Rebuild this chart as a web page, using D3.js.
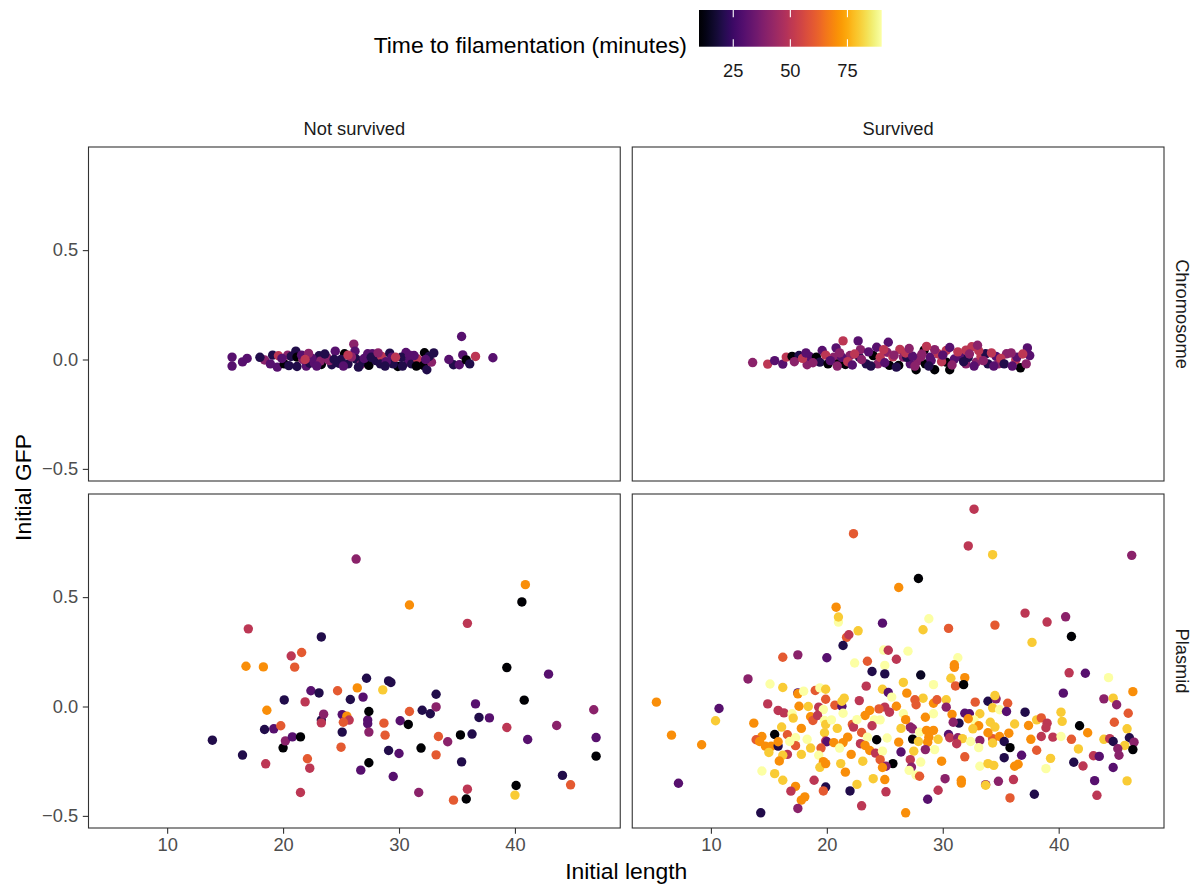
<!DOCTYPE html>
<html>
<head>
<meta charset="utf-8">
<script src="https://cdn.jsdelivr.net/npm/d3@7"></script>
<style>
  body { margin: 0; background: #ffffff; }
  text { font-family: "Liberation Sans", Arial, Helvetica, sans-serif; }
</style>
</head>
<body>
<svg id="chart" width="1193" height="884"></svg>
<script>
// Facet levels and axis ticks
const survivalLevels = ["Not survived", "Survived"];
const constructLevels = ["Chromosome", "Plasmid"];
const xTicks = [10, 20, 30, 40];
const yTicks = [-0.5, 0, 0.5];
const timeTicks = [25, 50, 75];
const timeLimits = [10, 90];

// Each point: [initial length, initial GFP, time to filamentation (min)]
const chromosomeNotSurvived = [
  [15.6, 0.011, 30], [15.6, -0.030, 30], [16.5, -0.011, 30], [18.4, -0.002, 40],
  [19.1, 0.020, 20], [19.6, 0.017, 50], [19.5, -0.035, 30], [20.1, -0.020, 10],
  [20.4, 0.020, 40], [20.7, 0.014, 20], [21.1, 0.038, 20], [21.2, 0.011, 10],
  [21.2, -0.032, 20], [22.0, -0.030, 30], [22.3, -0.017, 20], [22.7, -0.017, 30],
  [23.1, 0.017, 20], [23.3, -0.023, 10], [23.2, -0.008, 40], [23.8, 0.008, 40],
  [24.2, -0.024, 20], [24.5, 0.038, 30], [24.8, -0.017, 20], [25.3, 0.026, 10],
  [25.6, -0.020, 20], [26.1, 0.070, 40], [26.2, 0.038, 30], [26.3, 0.002, 20],
  [26.7, -0.024, 40], [26.9, -0.012, 20], [27.3, 0.026, 30], [27.4, -0.027, 10],
  [27.7, 0.026, 30], [28.0, -0.005, 20], [28.5, 0.014, 50], [28.4, -0.020, 20],
  [29.2, 0.029, 20], [29.4, 0.011, 30], [29.9, -0.032, 10], [29.5, -0.020, 20],
  [30.6, 0.032, 30], [30.8, -0.012, 30], [31.1, -0.020, 20], [31.6, 0.002, 50],
  [32.2, 0.031, 10], [32.1, -0.027, 10], [32.4, -0.047, 20], [32.8, -0.012, 40],
  [32.6, 0.014, 20], [34.7, -0.024, 20], [35.2, -0.024, 30], [35.4, 0.105, 30],
  [35.5, 0.021, 30], [35.8, -0.002, 10], [36.6, 0.014, 50], [38.1, 0.008, 30],
  [22.5, 0.005, 30], [24.0, -0.005, 40], [25.0, 0.000, 20], [27.0, 0.005, 30],
  [28.9, -0.010, 30], [30.2, 0.010, 20], [31.3, 0.018, 30], [21.7, 0.000, 40],
  [16.9, 0.005, 30], [18.0, 0.010, 20], [18.9, -0.020, 30], [19.9, 0.005, 30],
  [20.5, -0.028, 20], [21.6, 0.020, 30], [22.2, 0.028, 40], [22.9, -0.030, 30],
  [23.6, 0.025, 20], [24.4, 0.000, 20], [25.2, -0.030, 30], [25.9, 0.012, 40],
  [26.5, -0.035, 20], [27.6, 0.010, 20], [28.2, 0.030, 40], [28.8, -0.030, 20],
  [29.7, 0.010, 50], [30.3, -0.030, 20], [30.9, 0.020, 30], [31.5, -0.030, 10],
  [32.3, 0.000, 30], [33.0, 0.030, 20], [34.3, 0.000, 30], [36.1, -0.020, 20],
  [21.9, 0.000, 50], [25.6, 0.020, 50]
];

const chromosomeSurvived = [
  [13.6, -0.014, 40], [14.9, -0.021, 50], [15.5, -0.005, 30], [16.2, -0.021, 30],
  [16.5, 0.011, 50], [17.0, 0.014, 10], [17.6, 0.018, 20], [18.3, -0.024, 40],
  [18.5, 0.014, 30], [19.1, 0.011, 10], [19.6, 0.041, 30], [19.4, -0.012, 20],
  [20.1, -0.020, 10], [20.8, 0.053, 30], [20.6, 0.011, 40], [21.4, 0.085, 50],
  [21.0, -0.020, 10], [21.6, -0.023, 10], [22.0, 0.018, 40], [22.7, 0.085, 30],
  [22.8, 0.011, 20], [23.4, -0.020, 20], [24.0, 0.018, 10], [24.3, 0.056, 30],
  [24.4, -0.020, 40], [25.2, 0.033, 40], [25.3, 0.079, 30], [25.4, -0.027, 10],
  [26.2, -0.027, 10], [26.3, 0.046, 50], [26.6, 0.011, 40], [27.2, -0.020, 30],
  [27.7, -0.047, 10], [27.9, -0.005, 40], [28.4, 0.043, 10], [28.5, -0.020, 10],
  [29.3, -0.047, 10], [28.9, 0.011, 30], [29.6, 0.026, 50], [30.3, 0.041, 50],
  [30.3, -0.012, 10], [30.6, -0.047, 10], [31.0, 0.002, 30], [31.5, 0.014, 30],
  [32.0, 0.043, 50], [32.5, 0.058, 50], [32.0, -0.020, 40], [32.9, -0.012, 40],
  [33.3, 0.014, 50], [33.7, 0.026, 20], [33.9, -0.020, 20], [34.6, 0.014, 30],
  [34.8, -0.020, 40], [35.5, 0.026, 40], [36.3, -0.002, 50], [36.4, 0.011, 30],
  [36.7, -0.038, 10], [37.3, 0.053, 30], [37.5, 0.018, 30], [37.2, -0.020, 40],
  [22.9, 0.045, 40], [26.9, 0.010, 20], [29.0, -0.005, 30], [32.2, 0.010, 20],
  [21.3, 0.010, 30], [25.7, 0.012, 50], [28.1, 0.012, 40],
  [17.2, -0.010, 40], [17.9, 0.005, 50], [18.8, -0.015, 40], [19.9, 0.020, 50],
  [20.3, -0.005, 30], [21.1, 0.030, 40], [21.8, -0.010, 50], [22.4, 0.025, 50],
  [23.0, 0.000, 40], [23.6, 0.035, 30], [23.8, -0.030, 20], [24.6, 0.010, 50],
  [25.0, -0.015, 30], [25.8, 0.020, 40], [26.0, -0.035, 20], [26.8, 0.030, 50],
  [27.4, 0.015, 30], [27.6, -0.030, 40], [28.2, 0.025, 40], [28.8, -0.030, 20],
  [29.3, 0.045, 40], [29.9, -0.010, 50], [30.0, 0.020, 30], [30.8, -0.025, 40],
  [31.3, 0.035, 50], [31.8, -0.010, 20], [32.3, 0.025, 40], [32.7, -0.030, 30],
  [33.1, 0.040, 50], [33.5, -0.005, 40], [34.2, 0.030, 50], [34.4, -0.030, 30],
  [35.0, 0.005, 50], [35.3, -0.020, 20], [35.9, 0.030, 40], [36.0, -0.030, 30],
  [36.9, 0.025, 50], [18.2, 0.030, 30], [20.9, -0.030, 40], [22.2, -0.025, 30],
  [24.9, 0.045, 50], [27.1, 0.050, 40], [30.6, 0.055, 30], [33.0, 0.065, 40],
  [28.6, 0.060, 50]
];

const plasmidNotSurvived = [
  [13.9, -0.154, 20], [16.5, -0.222, 20], [16.8, 0.184, 70], [17.0, 0.355, 50],
  [18.3, 0.181, 70], [18.4, -0.105, 20], [18.6, -0.017, 70], [18.5, -0.262, 50],
  [19.2, -0.102, 30], [19.8, -0.088, 60], [20.0, -0.189, 10], [20.1, 0.030, 20],
  [20.2, -0.157, 40], [20.7, 0.231, 50], [20.8, -0.139, 30], [21.0, 0.180, 60],
  [21.5, -0.139, 10], [21.5, -0.393, 50], [21.6, 0.247, 60], [21.9, 0.021, 50],
  [22.1, -0.239, 60], [22.3, -0.282, 50], [22.4, 0.072, 30], [23.1, 0.062, 20],
  [23.3, -0.062, 20], [23.3, -0.075, 50], [23.3, 0.318, 20], [23.5, -0.035, 40],
  [24.7, 0.072, 60], [25.0, -0.186, 60], [25.1, -0.037, 30], [25.1, -0.117, 20],
  [25.5, -0.044, 70], [25.7, -0.062, 50], [25.2, -0.072, 60], [25.8, 0.032, 20],
  [26.3, 0.674, 40], [26.4, 0.085, 70], [26.7, -0.291, 30], [26.9, 0.043, 30],
  [27.2, 0.129, 20], [27.3, -0.062, 30], [27.3, -0.079, 30], [27.4, -0.023, 10],
  [27.4, -0.117, 40], [27.4, -0.257, 10], [28.6, 0.076, 80], [28.7, -0.076, 60],
  [28.8, -0.131, 60], [29.1, 0.117, 20], [29.3, 0.110, 20], [29.1, -0.201, 20],
  [29.5, -0.320, 30], [30.0, -0.215, 30], [30.1, -0.065, 30], [30.8, -0.082, 10],
  [30.9, 0.464, 70], [30.9, -0.023, 60], [31.7, -0.393, 40], [31.9, -0.190, 10],
  [32.0, -0.017, 20], [32.7, -0.033, 20], [33.2, -0.002, 40], [33.2, 0.056, 20],
  [33.2, -0.221, 60], [33.4, -0.137, 60], [34.2, -0.161, 40], [34.7, -0.428, 60],
  [35.3, -0.130, 10], [35.4, -0.253, 20], [35.8, -0.423, 10], [35.9, 0.380, 50],
  [35.9, -0.378, 50], [36.3, -0.126, 20], [36.6, 0.012, 30], [36.9, -0.050, 20],
  [37.8, -0.052, 30], [39.3, 0.178, 10], [39.3, -0.096, 50], [40.1, -0.361, 10],
  [40.0, -0.405, 80], [40.6, 0.478, 10], [40.8, 0.029, 10], [40.9, 0.557, 70],
  [41.1, -0.151, 30], [42.9, 0.148, 30], [43.6, -0.087, 40], [44.1, -0.315, 20],
  [44.8, -0.358, 60], [46.8, -0.015, 40], [47.0, -0.142, 30], [47.0, -0.227, 10]
];

const plasmidSurvived = [
  [22.3, 0.790, 60], [26.2, 0.544, 70], [20.8, 0.454, 70], [21.0, 0.386, 90],
  [21.0, 0.409, 80], [22.7, 0.346, 80], [24.8, 0.381, 30], [21.7, 0.316, 60],
  [21.9, 0.328, 50], [21.4, 0.279, 20], [16.2, 0.225, 60], [17.5, 0.236, 40],
  [20.0, 0.223, 30], [24.9, 0.258, 90], [25.3, 0.257, 50], [26.0, 0.216, 50],
  [22.4, 0.199, 90], [23.5, 0.207, 60], [25.0, 0.188, 90],
  [32.7, 0.902, 50], [32.2, 0.734, 50], [34.3, 0.694, 80], [46.3, 0.691, 40],
  [27.9, 0.585, 10], [37.1, 0.427, 50], [39.0, 0.386, 50], [40.6, 0.410, 40],
  [41.1, 0.320, 10], [34.5, 0.372, 60], [37.7, 0.293, 80], [28.8, 0.401, 90],
  [28.3, 0.351, 80], [30.5, 0.357, 60], [27.0, 0.253, 90], [31.3, 0.223, 90],
  [31.0, 0.191, 70],
  [5.3, 0.020, 70], [6.6, -0.131, 70], [9.2, -0.175, 70], [7.2, -0.351, 30],
  [10.7, -0.009, 30], [10.4, -0.065, 80], [13.2, 0.126, 40], [15.1, 0.103, 90],
  [16.2, 0.087, 80], [13.7, -0.076, 70], [14.4, -0.137, 70], [13.9, -0.152, 60],
  [14.7, -0.181, 70], [15.2, -0.182, 70], [15.8, -0.181, 20], [15.5, -0.128, 10],
  [15.8, -0.161, 70], [14.9, 0.012, 50], [15.8, -0.018, 50], [16.3, -0.029, 50],
  [16.1, -0.094, 80], [16.6, -0.129, 60], [17.0, -0.033, 90], [17.1, -0.053, 80],
  [17.3, -0.143, 90], [17.3, -0.179, 60], [17.8, -0.219, 80], [16.6, -0.219, 50],
  [16.2, -0.223, 80], [15.9, -0.249, 70], [14.4, -0.295, 90], [15.5, -0.307, 80],
  [16.2, -0.337, 80], [17.3, -0.365, 70], [16.9, -0.387, 50], [18.1, -0.413, 70],
  [17.8, -0.428, 70], [17.5, -0.466, 40], [14.3, -0.486, 20], [17.5, 0.062, 30],
  [17.5, 0.058, 70], [18.0, 0.070, 90], [17.6, 0.001, 70], [19.0, 0.073, 60],
  [19.4, 0.085, 90], [19.9, 0.079, 80], [19.9, 0.033, 60], [18.6, -0.047, 70],
  [18.8, -0.064, 60], [19.3, -0.003, 50], [19.7, -0.014, 90], [19.2, -0.041, 50],
  [19.8, -0.064, 90], [19.9, -0.082, 80], [20.4, -0.061, 90], [19.8, -0.120, 80],
  [20.7, 0.006, 60], [21.3, 0.001, 30], [21.5, 0.038, 80], [21.3, 0.024, 80],
  [21.4, -0.031, 90], [22.8, 0.027, 50], [22.2, -0.082, 60], [22.3, -0.094, 50],
  [19.9, -0.158, 50], [20.0, -0.161, 30], [20.6, -0.165, 70], [21.4, -0.165, 70],
  [21.1, -0.190, 90], [19.5, -0.190, 60], [19.3, -0.223, 90], [19.7, -0.252, 70],
  [19.4, -0.278, 80], [19.9, -0.261, 70], [21.2, -0.261, 80], [22.1, -0.219, 70],
  [18.9, -0.337, 50], [19.9, -0.368, 20], [19.7, -0.386, 60], [22.0, -0.386, 20],
  [22.6, -0.356, 80], [23.0, -0.454, 50], [23.4, 0.093, 50], [23.9, 0.160, 20],
  [25.0, 0.149, 20], [24.8, 0.079, 80], [25.3, 0.064, 30], [25.6, 0.043, 90],
  [26.0, 0.001, 70], [25.0, -0.003, 50], [25.4, -0.026, 50], [24.5, -0.011, 60],
  [23.7, -0.018, 70], [23.3, -0.041, 70], [24.1, -0.061, 90], [24.6, -0.061, 90],
  [23.9, -0.088, 50], [23.0, -0.119, 60], [23.5, -0.140, 90], [24.3, -0.152, 10],
  [25.2, -0.144, 90], [22.9, -0.170, 50], [23.3, -0.178, 70], [23.7, -0.201, 70],
  [24.2, -0.213, 50], [24.8, -0.204, 90], [24.6, -0.243, 60], [25.7, -0.261, 10],
  [25.1, -0.273, 40], [24.8, -0.279, 70], [26.2, -0.163, 70], [26.4, -0.208, 30],
  [25.0, -0.334, 70], [25.1, -0.390, 50], [26.8, -0.486, 70],
  [28.1, 0.144, 15], [31.0, 0.179, 70], [30.7, 0.129, 80], [31.9, 0.132, 70],
  [31.1, 0.094, 60], [31.8, 0.100, 10], [29.2, 0.100, 90], [26.9, 0.061, 70],
  [28.3, 0.038, 80], [27.6, 0.031, 60], [27.7, 0.008, 60], [29.2, 0.015, 70],
  [29.5, 0.031, 60], [30.3, 0.031, 80], [30.3, -0.003, 40], [26.6, -0.033, 90],
  [29.2, -0.033, 90], [28.5, -0.049, 70], [30.8, -0.036, 70], [31.9, -0.031, 30],
  [32.8, 0.020, 60], [33.9, 0.024, 20], [34.6, 0.035, 40], [34.5, 0.050, 80],
  [35.6, 0.015, 60], [34.3, -0.006, 80], [34.9, -0.015, 90], [35.5, -0.023, 30],
  [32.3, -0.033, 30], [33.2, -0.033, 80], [32.7, -0.061, 90], [32.2, -0.056, 70],
  [31.4, -0.076, 20], [30.9, -0.072, 40], [33.1, -0.088, 70], [32.6, -0.102, 80],
  [34.1, -0.072, 80], [34.5, -0.094, 80], [35.7, -0.122, 70], [27.2, -0.094, 40],
  [27.4, -0.102, 40], [28.0, -0.117, 90], [28.6, -0.109, 70], [29.2, -0.109, 70],
  [28.8, -0.140, 70], [27.4, -0.149, 10], [27.9, -0.160, 80], [28.7, -0.163, 70],
  [30.5, -0.128, 30], [30.6, -0.143, 50], [31.3, -0.143, 40], [31.7, -0.147, 80],
  [31.2, -0.170, 50], [33.2, -0.155, 40], [34.3, -0.147, 60], [34.9, -0.137, 70],
  [35.3, -0.160, 20], [34.3, -0.167, 80], [35.8, -0.188, 10], [33.1, -0.188, 90],
  [29.3, -0.197, 90], [28.5, -0.197, 40], [27.5, -0.204, 80], [27.2, -0.243, 50],
  [28.1, -0.254, 90], [27.3, -0.277, 40], [27.1, -0.292, 90], [27.7, -0.314, 90],
  [28.0, -0.319, 60], [35.3, -0.234, 20], [36.8, -0.223, 30], [36.5, -0.264, 70],
  [36.2, -0.273, 70], [33.2, -0.273, 90], [33.9, -0.261, 80], [34.4, -0.269, 80],
  [30.2, -0.330, 40], [31.6, -0.337, 70], [31.6, -0.350, 70], [29.6, -0.383, 50],
  [28.7, -0.424, 30], [33.7, -0.357, 40], [33.7, -0.360, 80], [34.8, -0.342, 40],
  [36.1, -0.334, 50], [35.8, -0.418, 60], [37.9, -0.401, 20], [37.1, -0.026, 20],
  [37.4, -0.087, 70], [38.1, -0.061, 80], [38.5, -0.052, 60], [39.0, -0.076, 50],
  [38.9, -0.097, 50], [38.5, -0.137, 50], [39.5, -0.140, 50], [40.2, -0.137, 90],
  [40.2, -0.026, 80], [40.3, -0.068, 80], [40.4, 0.061, 30], [41.8, -0.088, 10],
  [41.1, -0.150, 60], [41.7, -0.194, 80], [41.3, -0.255, 20], [42.1, -0.272, 50],
  [40.9, 0.154, 50], [42.3, 0.152, 30], [44.3, 0.132, 90], [43.9, 0.035, 40],
  [44.7, 0.038, 80], [45.0, 0.008, 40], [46.4, 0.068, 70], [46.0, -0.031, 60],
  [44.8, -0.072, 60], [45.9, -0.102, 80], [43.9, -0.150, 80], [44.4, -0.147, 50],
  [44.7, -0.160, 20], [46.1, -0.143, 20], [46.5, -0.163, 40], [45.7, -0.178, 80],
  [46.4, -0.197, 10], [45.1, -0.193, 40], [45.2, -0.223, 40], [43.0, -0.225, 50],
  [43.5, -0.228, 30], [39.3, -0.237, 80], [38.9, -0.284, 90], [44.7, -0.279, 30],
  [43.1, -0.339, 30], [45.9, -0.340, 80], [43.3, -0.406, 50],
  [14.2, -0.160, 70], [15.0, -0.210, 80], [16.8, -0.160, 90], [17.8, -0.100, 70],
  [18.3, -0.150, 90], [18.6, -0.190, 80], [20.9, -0.100, 80], [21.8, -0.140, 70],
  [22.6, -0.060, 90], [23.1, -0.250, 80], [26.4, -0.100, 80], [26.8, -0.060, 70],
  [29.6, -0.150, 80], [29.9, -0.250, 70], [31.9, -0.230, 60], [32.4, -0.160, 90],
  [33.9, -0.120, 70], [36.2, -0.080, 80], [37.6, -0.150, 70], [38.1, -0.200, 60],
  [42.5, -0.120, 70], [21.6, -0.300, 70], [24.0, -0.330, 80], [18.4, 0.000, 80],
  [26.6, 0.110, 80]
];

const panels = [
  { survival: "Not survived", construct: "Chromosome", points: chromosomeNotSurvived },
  { survival: "Survived", construct: "Chromosome", points: chromosomeSurvived },
  { survival: "Not survived", construct: "Plasmid", points: plasmidNotSurvived },
  { survival: "Survived", construct: "Plasmid", points: plasmidSurvived }
];

// ---- layout ----
const layout = { left: 88.5, right: 1164, top: 147, bottom: 828, gapX: 12, gapY: 13 };
const panelW = (layout.right - layout.left - layout.gapX) / 2;
const panelH = (layout.bottom - layout.top - layout.gapY) / 2;
const textDark = "#1a1a1a", axisText = "#4d4d4d", lineCol = "#333333";
const smallFont = 18.3, bigFont = 22.9;

const allPoints = panels.flatMap(p => p.points);
const expand = ([a, b]) => { const d = (b - a) * 0.05; return [a - d, b + d]; };

const x = d3.scaleLinear().domain(expand(d3.extent(allPoints, d => d[0]))).range([0, panelW]);
const y = d3.scaleLinear().domain(expand(d3.extent(allPoints, d => d[1]))).range([panelH, 0]);
const color = d3.scaleSequential(d3.interpolateInferno).domain(timeLimits);

const colX = d3.scaleOrdinal().domain(survivalLevels)
  .range([layout.left, layout.left + panelW + layout.gapX]);
const rowY = d3.scaleOrdinal().domain(constructLevels)
  .range([layout.top, layout.top + panelH + layout.gapY]);

const svg = d3.select("#chart");
svg.append("rect").attr("width", 1193).attr("height", 884).attr("fill", "#ffffff");

panels.forEach(p => {
  const g = svg.append("g")
    .attr("transform", `translate(${colX(p.survival)},${rowY(p.construct)})`);

  g.selectAll("circle").data(p.points).join("circle")
    .attr("cx", d => x(d[0]))
    .attr("cy", d => y(d[1]))
    .attr("r", 4.7)
    .attr("fill", d => color(d[2]));

  g.append("rect")
    .attr("x", 0).attr("y", 0).attr("width", panelW).attr("height", panelH)
    .attr("fill", "none").attr("stroke", lineCol).attr("stroke-width", 1.1);

  if (p.survival === survivalLevels[0]) {
    const ax = g.append("g").call(
      d3.axisLeft(y).tickValues(yTicks).tickSize(5.7).tickPadding(4.6)
        .tickFormat(d3.format(".1f")));
    styleAxis(ax);
  }
  if (p.construct === constructLevels[1]) {
    const ax = g.append("g").attr("transform", `translate(0,${panelH})`).call(
      d3.axisBottom(x).tickValues(xTicks).tickSize(5.7).tickPadding(4.6)
        .tickFormat(d3.format("d")));
    styleAxis(ax);
  }
});

function styleAxis(ax) {
  ax.select(".domain").remove();
  ax.selectAll(".tick line").attr("stroke", lineCol).attr("stroke-width", 1.1);
  ax.selectAll(".tick text").attr("fill", axisText)
    .style("font-size", smallFont + "px")
    .style("font-family", '"Liberation Sans", Arial, Helvetica, sans-serif');
}

// strip labels
survivalLevels.forEach(s => {
  svg.append("text")
    .attr("x", colX(s) + panelW / 2).attr("y", layout.top - 18.5)
    .attr("text-anchor", "middle").attr("dominant-baseline", "central")
    .attr("fill", textDark).style("font-size", smallFont + "px").text(s);
});
constructLevels.forEach(c => {
  const cx = layout.right + 18, cy = rowY(c) + panelH / 2;
  svg.append("text")
    .attr("transform", `translate(${cx},${cy}) rotate(90)`)
    .attr("text-anchor", "middle").attr("dominant-baseline", "central")
    .attr("fill", textDark).style("font-size", smallFont + "px").text(c);
});

// axis titles
svg.append("text")
  .attr("x", (layout.left + layout.right) / 2).attr("y", 879)
  .attr("text-anchor", "middle").attr("fill", "#000")
  .style("font-size", bigFont + "px").text("Initial length");
svg.append("text")
  .attr("transform", `translate(31,${(layout.top + layout.bottom) / 2}) rotate(-90)`)
  .attr("text-anchor", "middle").attr("fill", "#000")
  .style("font-size", bigFont + "px").text("Initial GFP");

// colour bar legend
const bar = { x0: 699, x1: 881.7, y0: 10, y1: 46.7 };
const cb = d3.scaleLinear().domain(timeLimits).range([bar.x0, bar.x1]);
const defs = svg.append("defs");
const grad = defs.append("linearGradient").attr("id", "timeGrad")
  .attr("x1", "0%").attr("x2", "100%").attr("y1", "0%").attr("y2", "0%");
d3.range(0, 1.0001, 0.02).forEach(t => {
  grad.append("stop").attr("offset", (t * 100) + "%")
    .attr("stop-color", color(timeLimits[0] + t * (timeLimits[1] - timeLimits[0])));
});
svg.append("rect")
  .attr("x", bar.x0).attr("y", bar.y0)
  .attr("width", bar.x1 - bar.x0).attr("height", bar.y1 - bar.y0)
  .attr("fill", "url(#timeGrad)");
const tickLen = (bar.y1 - bar.y0) / 5;
timeTicks.forEach(v => {
  [[bar.y0, bar.y0 + tickLen], [bar.y1 - tickLen, bar.y1]].forEach(([a, b]) => {
    svg.append("line").attr("x1", cb(v)).attr("x2", cb(v)).attr("y1", a).attr("y2", b)
      .attr("stroke", "#ffffff").attr("stroke-width", 1.1);
  });
  svg.append("text").attr("x", cb(v)).attr("y", 76.5)
    .attr("text-anchor", "middle").attr("fill", textDark)
    .style("font-size", smallFont + "px").text(v);
});
svg.append("text")
  .attr("x", 687).attr("y", 53)
  .attr("text-anchor", "end").attr("fill", "#000")
  .style("font-size", bigFont + "px").text("Time to filamentation (minutes)");
</script>
</body>
</html>
